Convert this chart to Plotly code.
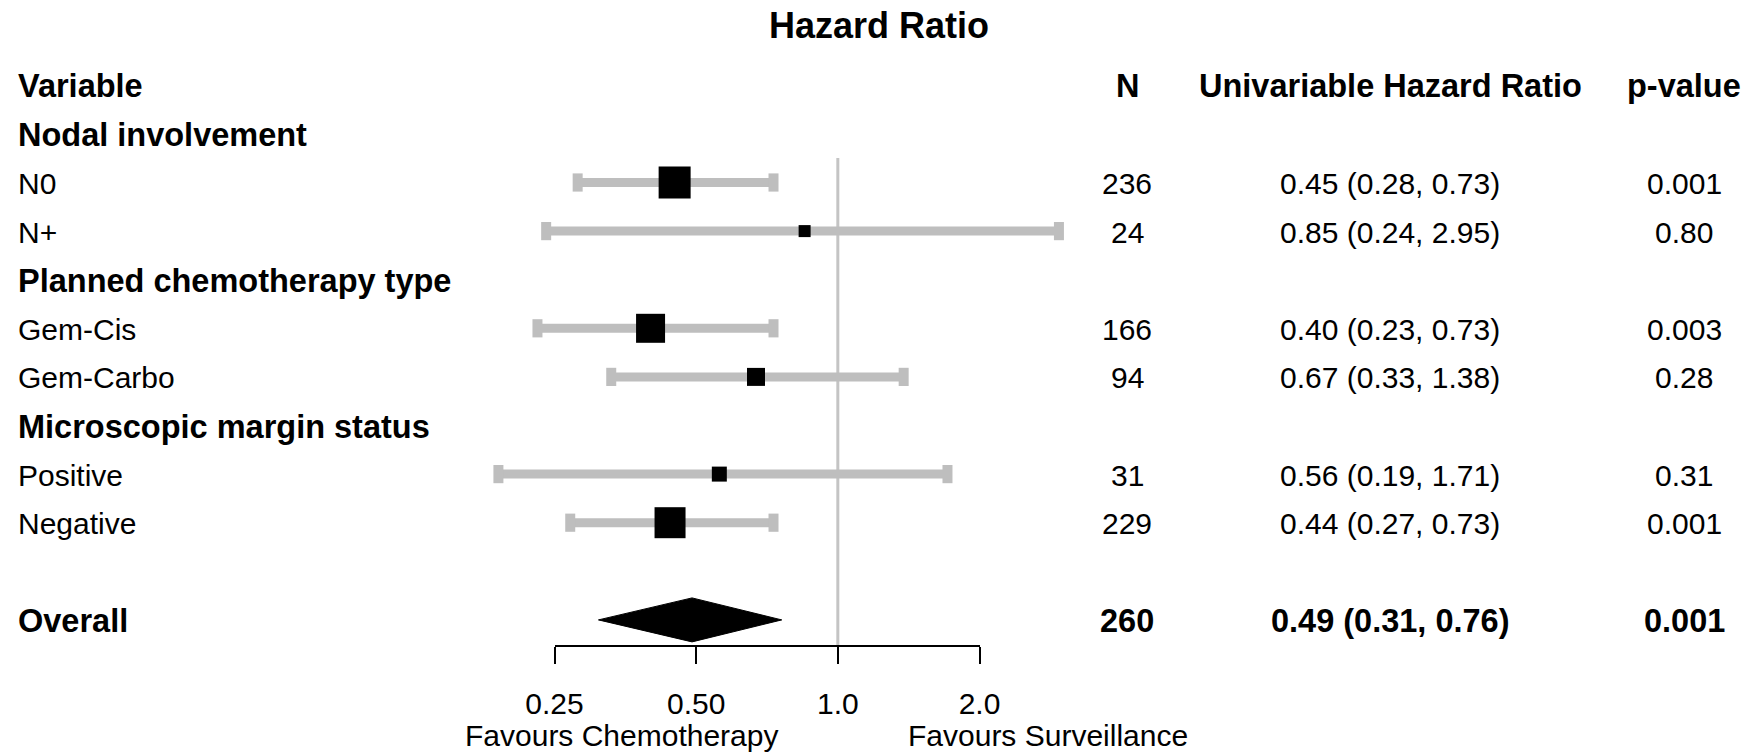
import math
import plotly.graph_objects as go

# ---------------- data ----------------
labels = ["Variable", "Nodal involvement", "N0", "N+", "Planned chemotherapy type",
          "Gem-Cis", "Gem-Carbo", "Microscopic margin status", "Positive", "Negative",
          "", "Overall"]
bold_rows = [0, 1, 4, 7, 11]
sub_rows = [2, 3, 5, 6, 8, 9]          # rows that carry an estimate
n_values = [236, 24, 166, 94, 31, 229]
hr = [0.45, 0.85, 0.40, 0.67, 0.56, 0.44]
lo = [0.28, 0.24, 0.23, 0.33, 0.19, 0.27]
hi = [0.73, 2.95, 0.73, 1.38, 1.71, 0.73]
p_values = ["0.001", "0.80", "0.003", "0.28", "0.31", "0.001"]

overall_row = 11
overall_n = 260
overall_hr, overall_lo, overall_hi = 0.49, 0.31, 0.76
overall_p = "0.001"

col_headers = ["N", "Univariable Hazard Ratio", "p-value"]
tick_vals = [0.25, 0.5, 1.0, 2.0]
tick_text = ["0.25", "0.50", "1.0", "2.0"]

# ---------------- styling ----------------
W, H = 1758, 754
FONT = "Liberation Sans, Arial, sans-serif"
NORMAL = 30
BOLD = 32.5
GREY = "#BEBEBE"
box_sizes = [32, 12, 29, 18, 15, 31]

# pixel geometry
row0_px, row_step = 85.3, 48.6
ax_left_px, ax_right_px = 554.5, 979.5
axis_px = 646
ref_top_px = 158
col_x_px = [1127, 1390, 1684]
label_x_px = 16
text_shift = -1


def px_to_row(p):
    return (p - row0_px) / row_step


lpp = (ax_right_px - ax_left_px) / (math.log10(2.0) - math.log10(0.25))
L0 = math.log10(0.25) - ax_left_px / lpp
L1 = math.log10(0.25) + (W - ax_left_px) / lpp

fig = go.Figure()

# reference line at HR = 1
fig.add_trace(go.Scatter(x=[1, 1], y=[px_to_row(ref_top_px), px_to_row(axis_px)],
                         mode="lines", line=dict(color="#C4C4C4", width=3),
                         hoverinfo="skip"))

# CI lines
cx, cy = [], []
for r, a, b in zip(sub_rows, lo, hi):
    cx += [a, b, None]
    cy += [r, r, None]
fig.add_trace(go.Scatter(x=cx, y=cy, mode="lines",
                         line=dict(color=GREY, width=9), hoverinfo="skip"))
# CI end caps
fig.add_trace(go.Scatter(x=lo + hi, y=sub_rows + sub_rows, mode="markers",
                         marker=dict(symbol="line-ns", size=13, color=GREY, opacity=1,
                                     line=dict(color=GREY, width=10)),
                         hoverinfo="skip"))
# point estimates
fig.add_trace(go.Scatter(x=hr, y=sub_rows, mode="markers",
                         marker=dict(symbol="square", size=box_sizes, color="black",
                                     opacity=1, line=dict(width=0)),
                         hoverinfo="skip"))
# overall diamond
dh = 22 / row_step
fig.add_trace(go.Scatter(
    x=[overall_lo, overall_hr, overall_hi, overall_hr, overall_lo],
    y=[overall_row, overall_row - dh, overall_row, overall_row + dh, overall_row],
    mode="lines", fill="toself", fillcolor="black", line=dict(color="black", width=1),
    hoverinfo="skip"))

# dummy trace to attach the visible HR axis
fig.add_trace(go.Scatter(x=[0.25, 2.0], y=[None, None], xaxis="x2", yaxis="y",
                         mode="markers", marker=dict(opacity=0), hoverinfo="skip"))

ann = []


def add_text(txt, xpx, row, bold=False, anchor="center"):
    ann.append(dict(text=f"<b>{txt}</b>" if bold else txt, x=xpx / W, xref="paper",
                    y=row, yref="y", xanchor=anchor, yanchor="middle",
                    yshift=text_shift, showarrow=False,
                    font=dict(family=FONT, size=BOLD if bold else NORMAL, color="black")))


for i, lab in enumerate(labels):
    if lab:
        add_text(lab, label_x_px, i, bold=(i in bold_rows), anchor="left")

for h, xp in zip(col_headers, col_x_px):
    add_text(h, xp, 0, bold=True)

for r, n, e, a, b, p in zip(sub_rows, n_values, hr, lo, hi, p_values):
    add_text(str(n), col_x_px[0], r)
    add_text(f"{e:.2f} ({a:.2f}, {b:.2f})", col_x_px[1], r)
    add_text(p, col_x_px[2], r)

add_text(str(overall_n), col_x_px[0], overall_row, bold=True)
add_text(f"{overall_hr:.2f} ({overall_lo:.2f}, {overall_hi:.2f})", col_x_px[1],
         overall_row, bold=True)
add_text(overall_p, col_x_px[2], overall_row, bold=True)

# favours labels
for txt, xp in [("Favours Chemotherapy", 621), ("Favours Surveillance", 1048)]:
    ann.append(dict(text=txt, x=xp / W, xref="paper", y=1 - 735 / H, yref="paper",
                    xanchor="center", yanchor="middle", showarrow=False,
                    font=dict(family=FONT, size=NORMAL, color="black")))

fig.update_layout(
    width=W, height=H, margin=dict(l=0, r=0, t=0, b=0, autoexpand=False),
    paper_bgcolor="white", plot_bgcolor="rgba(0,0,0,0)", showlegend=False,
    title=dict(text="<b>Hazard Ratio</b>", x=0.5, xanchor="center",
               y=1 - 25 / H, yanchor="middle",
               font=dict(family=FONT, size=36, color="black")),
    xaxis=dict(type="log", range=[L0, L1], domain=[0, 1], visible=False),
    yaxis=dict(range=[px_to_row(H), px_to_row(0)], domain=[0, 1], visible=False),
    xaxis2=dict(type="log", range=[math.log10(0.25), math.log10(2.0)],
                domain=[ax_left_px / W, ax_right_px / W], anchor="free",
                position=1 - axis_px / H, showline=True, linecolor="black",
                linewidth=1.5, ticks="outside", ticklen=17, tickwidth=1.5,
                tickcolor="black", tickvals=tick_vals, ticktext=tick_text,
                tickfont=dict(family=FONT, size=NORMAL, color="black"),
                ticklabelstandoff=14, showgrid=False, zeroline=False,
                automargin=False),
    annotations=ann,
)

fig.write_html("out.html")
